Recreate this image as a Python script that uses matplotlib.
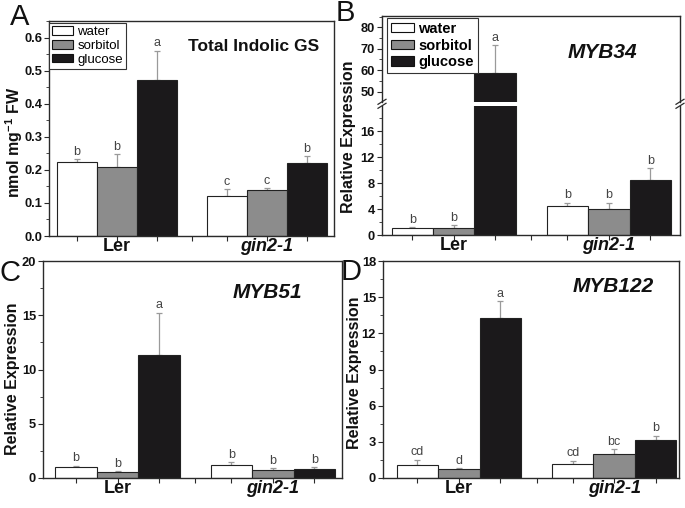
import matplotlib
matplotlib.use('Agg')
import matplotlib.pyplot as plt
import numpy as np
from matplotlib.ticker import MultipleLocator, FixedLocator
from matplotlib.patches import Patch
from matplotlib.lines import Line2D

plt.rcParams['font.family'] = ['Liberation Sans', 'DejaVu Sans']
plt.rcParams['mathtext.fontset'] = 'custom'
plt.rcParams['mathtext.rm'] = 'Liberation Sans:bold'
plt.rcParams['mathtext.bf'] = 'Liberation Sans:bold'
plt.rcParams['mathtext.default'] = 'bf'

# ---------------- data ----------------
groups = ['Ler', 'gin2-1']
treatments = ['water', 'sorbitol', 'glucose']
bar_colors = ['#ffffff', '#8c8c8c', '#1b191b']

# Panel A: Total Indolic GS (nmol mg-1 FW)
a_water = [0.225, 0.121]
a_sorbitol = [0.208, 0.139]
a_glucose = [0.473, 0.221]
a_water_sd = [0.007, 0.021]
a_sorbitol_sd = [0.040, 0.006]
a_glucose_sd = [0.087, 0.020]
a_letters = [['b', 'c'], ['b', 'c'], ['a', 'b']]

# Panel B: MYB34
b_water = [1.03, 4.5]
b_sorbitol = [1.08, 3.95]
b_glucose = [58.9, 8.46]
b_water_sd = [0.15, 0.5]
b_sorbitol_sd = [0.42, 1.05]
b_glucose_sd = [12.9, 1.8]
b_letters = [['b', 'b'], ['b', 'b'], ['a', 'b']]

# Panel C: MYB51
c_water = [1.01, 1.17]
c_sorbitol = [0.55, 0.77]
c_glucose = [11.32, 0.83]
c_water_sd = [0.12, 0.27]
c_sorbitol_sd = [0.09, 0.15]
c_glucose_sd = [3.9, 0.17]
c_letters = [['b', 'b'], ['b', 'b'], ['a', 'b']]

# Panel D: MYB122
d_water = [1.05, 1.16]
d_sorbitol = [0.72, 2.02]
d_glucose = [13.29, 3.12]
d_water_sd = [0.47, 0.28]
d_sorbitol_sd = [0.08, 0.38]
d_glucose_sd = [1.4, 0.38]
d_letters = [['cd', 'cd'], ['d', 'bc'], ['a', 'b']]

# ---------------- figure ----------------
W, H = 685, 508
fig = plt.figure(figsize=(W / 100, H / 100), dpi=100)

def px_axes(left, top, right, bottom):
    return fig.add_axes([left / W, 1 - bottom / H, (right - left) / W, (bottom - top) / H])

bw = 0.8 / 3
gx = np.arange(len(groups))
offsets = [-bw, 0, bw]
spine_col = '#2a2a2a'
err_col = '#9a9a9a'
letter_col = '#444444'

def style_axes(ax, show_x=True):
    for s in ax.spines.values():
        s.set_color(spine_col)
        s.set_linewidth(1.0)
    ax.tick_params(axis='y', which='major', direction='out', length=3.5, width=0.8,
                   labelsize=9.3, pad=1.5, colors=spine_col)
    ax.tick_params(axis='y', which='minor', direction='out', length=2, width=0.6, colors=spine_col)
    ax.tick_params(axis='y', labelcolor='#111111')
    for lab in ax.get_yticklabels():
        lab.set_fontweight('bold')
    if show_x:
        ax.set_xticks(gx)
        minor = [g + o for g in gx for o in (-bw, bw)] + [0.5]
        ax.xaxis.set_minor_locator(FixedLocator(minor))
        ax.tick_params(axis='x', which='both', direction='out', length=3.5, width=0.8,
                       colors=spine_col)
        ax.tick_params(axis='x', which='major', labelsize=13, pad=-2, labelcolor='#111111')
        ax.set_xticklabels(groups, fontweight='bold')
        ax.get_xticklabels()[1].set_fontstyle('italic')
    else:
        ax.tick_params(axis='x', which='both', bottom=False, labelbottom=False)

def draw_bars(ax, means, sds, letters):
    for i, (m, s, lt, col) in enumerate(zip(means, sds, letters, bar_colors)):
        xs = gx + offsets[i]
        ax.bar(xs, m, width=bw, color=col, edgecolor='#222222', linewidth=0.8, zorder=2)
        ax.errorbar(xs, m, yerr=[np.zeros(len(m)), s], fmt='none', ecolor=err_col,
                    elinewidth=0.9, capsize=2.2, capthick=0.9, zorder=1)
        for x, mm, ss, l in zip(xs, m, s, lt):
            ax.annotate(l, xy=(x, mm + ss), xytext=(0, 1), textcoords='offset points',
                        ha='center', va='bottom', fontsize=9, color=letter_col)

def legend(ax, anchor, bold, fs, spacing):
    handles = [Patch(facecolor=c, edgecolor='#111111', linewidth=0.8) for c in bar_colors]
    leg = ax.legend(handles, treatments, loc='upper left', bbox_to_anchor=anchor,
                    fontsize=fs, handlelength=1.6, handleheight=0.65, labelspacing=spacing,
                    borderpad=0.25, handletextpad=0.3, borderaxespad=0, fancybox=False,
                    frameon=True, edgecolor='#333333', framealpha=1)
    leg.get_frame().set_linewidth(0.8)
    if bold:
        for t in leg.get_texts():
            t.set_fontweight('bold')

# ---- Panel A ----
axA = px_axes(49, 21, 334, 236)
draw_bars(axA, [a_water, a_sorbitol, a_glucose], [a_water_sd, a_sorbitol_sd, a_glucose_sd], a_letters)
axA.set_xlim(-0.454, 1.45)
axA.set_ylim(0, 0.65)
axA.yaxis.set_major_locator(MultipleLocator(0.1))
axA.yaxis.set_minor_locator(MultipleLocator(0.05))
axA.yaxis.set_major_formatter(matplotlib.ticker.FormatStrFormatter('%.1f'))
style_axes(axA)
legend(axA, (0.0, 0.99), False, 9.5, 0.12)

# ---- Panel B (broken axis) ----
axBl = px_axes(382, 106, 680, 235)
axBu = px_axes(382, 16, 680, 101.7)
for ax in (axBl, axBu):
    draw_bars(ax, [b_water, b_sorbitol, b_glucose], [b_water_sd, b_sorbitol_sd, b_glucose_sd], b_letters)
    ax.set_xlim(-0.463, 1.459)
axBl.set_ylim(0, 19.9)
axBu.set_ylim(45.3, 85.3)
axBl.yaxis.set_major_locator(FixedLocator([0, 4, 8, 12, 16]))
axBl.yaxis.set_minor_locator(FixedLocator([2, 6, 10, 14, 18]))
axBu.yaxis.set_major_locator(FixedLocator([50, 60, 70, 80]))
axBu.yaxis.set_minor_locator(FixedLocator([55, 65, 75, 85]))
style_axes(axBl)
style_axes(axBu, show_x=False)
axBl.spines['top'].set_visible(False)
axBu.spines['bottom'].set_visible(False)
legend(axBu, (5 / 298, 1 - 2 / 86), True, 10.5, 0.2)

# break marks
for xb in (382, 680):
    for dy in (-2.0, 2.0):
        yb = 103.8 + dy
        fig.add_artist(Line2D([(xb - 4) / W, (xb + 4) / W], [1 - (yb + 2.5) / H, 1 - (yb - 2.5) / H],
                              color=spine_col, lw=0.9))

# ---- Panel C ----
axC = px_axes(43, 261, 342, 478)
draw_bars(axC, [c_water, c_sorbitol, c_glucose], [c_water_sd, c_sorbitol_sd, c_glucose_sd], c_letters)
axC.set_xlim(-0.48, 1.445)
axC.set_ylim(0, 20)
axC.yaxis.set_major_locator(MultipleLocator(5))
axC.yaxis.set_minor_locator(MultipleLocator(2.5))
style_axes(axC)

# ---- Panel D ----
axD = px_axes(383, 261, 679, 478)
draw_bars(axD, [d_water, d_sorbitol, d_glucose], [d_water_sd, d_sorbitol_sd, d_glucose_sd], d_letters)
axD.set_xlim(-0.488, 1.417)
axD.set_ylim(0, 18)
axD.yaxis.set_major_locator(MultipleLocator(3))
axD.yaxis.set_minor_locator(MultipleLocator(1.5))
style_axes(axD)

# ---- texts ----
def ftext(x, y, s, **kw):
    fig.text(x / W, 1 - y / H, s, ha='center', va='center', **kw)

ftext(20, 17, 'A', fontsize=21, color='#111111')
ftext(345, 13, 'B', fontsize=21, color='#111111')
ftext(10, 273, 'C', fontsize=21, color='#111111')
ftext(351, 272, 'D', fontsize=21, color='#111111')

ftext(254, 46, 'Total Indolic GS', fontsize=12.5, fontweight='bold', color='#111111')
ftext(602, 53, 'MYB34', fontsize=15, fontweight='bold', style='italic', color='#111111')
ftext(267, 292, 'MYB51', fontsize=15, fontweight='bold', style='italic', color='#111111')
ftext(613, 287, 'MYB122', fontsize=15, fontweight='bold', style='italic', color='#111111')

ftext(14, 142, r'nmol mg$^{-1}$ FW', fontsize=11.5, fontweight='bold', rotation=90, color='#111111')
ftext(349, 137, 'Relative Expression', fontsize=11.5, fontweight='bold', rotation=90, color='#111111')
ftext(12.5, 379, 'Relative Expression', fontsize=11.5, fontweight='bold', rotation=90, color='#111111')
ftext(354, 373, 'Relative Expression', fontsize=11.5, fontweight='bold', rotation=90, color='#111111')

fig.savefig('out.png', dpi=100)
